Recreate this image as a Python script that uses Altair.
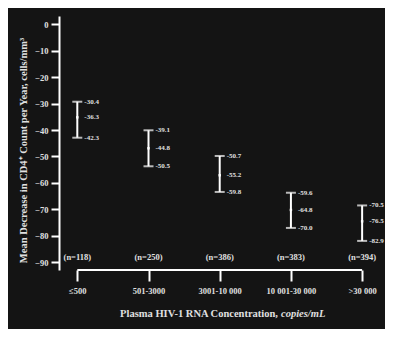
import altair as alt
import pandas as pd

# ---- data ----
categories = ["≤500", "501-3000", "3001-10 000", "10 001-30 000", ">30 000"]
n_labels = ["(n=118)", "(n=250)", "(n=386)", "(n=383)", "(n=394)"]

# positions of the drawn marks
upper_drawn = [-29.3, -40.1, -49.8, -63.7, -68.5]
mean_drawn = [-35.2, -46.9, -57.1, -70.2, -74.5]
lower_drawn = [-42.9, -53.7, -63.4, -77.0, -81.9]

# printed values
upper_text = ["-30.4", "-39.1", "-50.7", "-59.6", "-70.5"]
mean_text = ["-36.3", "-44.8", "-55.2", "-64.8", "-76.5"]
lower_text = ["-42.3", "-50.5", "-59.8", "-70.0", "-82.9"]

y_ticks = [0, -10, -20, -30, -40, -50, -60, -70, -80, -90]
n_label_level = -88

FONT = "Liberation Serif"
TXT = "#e0e0e0"

idx = list(range(len(categories)))
df = pd.DataFrame({
    "idx": idx,
    "cat": categories,
    "n": n_labels,
    "upper": upper_drawn,
    "mean": mean_drawn,
    "lower": lower_drawn,
    "nlev": [n_label_level] * len(categories),
})

long = pd.DataFrame({
    "idx": idx * 3,
    "val": upper_drawn + mean_drawn + lower_drawn,
    "txt": upper_text + mean_text + lower_text,
})

label_expr = " : ".join(
    [f"datum.value == {i} ? '{c}'" for i, c in enumerate(categories)]
) + " : ''"

xscale = alt.Scale(domain=[-0.257, 4.251], nice=False, zero=False)
yscale = alt.Scale(domain=[-92.9, 3.1], nice=False, zero=False)

x_axis = alt.Axis(values=idx, labelExpr=label_expr, title=None)
y_axis = alt.Axis(
    values=y_ticks,
    title="Mean Decrease in CD4⁺ Count per Year, cells/mm³",
    titleY=134,
)

base = alt.Chart(df)

bars = base.mark_rule(color="white", strokeWidth=2).encode(
    x=alt.X("idx:Q", scale=xscale, axis=x_axis),
    y=alt.Y("lower:Q", scale=yscale, axis=y_axis),
    y2="upper:Q",
)

cap_top = base.mark_tick(color="white", orient="horizontal", size=10, thickness=2).encode(
    x=alt.X("idx:Q", scale=xscale, axis=x_axis),
    y=alt.Y("upper:Q", scale=yscale, axis=y_axis),
)
cap_bot = base.mark_tick(color="white", orient="horizontal", size=10, thickness=2).encode(
    x=alt.X("idx:Q", scale=xscale, axis=x_axis),
    y=alt.Y("lower:Q", scale=yscale, axis=y_axis),
)
dots = base.mark_square(color="white", size=6, opacity=1).encode(
    x=alt.X("idx:Q", scale=xscale, axis=x_axis),
    y=alt.Y("mean:Q", scale=yscale, axis=y_axis),
)

val_labels = alt.Chart(long).mark_text(
    align="left", baseline="middle", dx=7, font=FONT, fontWeight="bold",
    fontSize=7, color=TXT,
).encode(
    x=alt.X("idx:Q", scale=xscale, axis=x_axis),
    y=alt.Y("val:Q", scale=yscale, axis=y_axis),
    text="txt:N",
)

n_text = base.mark_text(
    align="center", baseline="middle", font=FONT, fontWeight="bold",
    fontSize=8.5, color=TXT,
).encode(
    x=alt.X("idx:Q", scale=xscale, axis=x_axis),
    y=alt.Y("nlev:Q", scale=yscale, axis=y_axis),
    text="n:N",
)

x_line = alt.Chart(pd.DataFrame({"a": [0], "b": [4]})).mark_rule(
    color="white", strokeWidth=2
).encode(x=alt.X("a:Q", scale=xscale, axis=x_axis), x2="b:Q", y=alt.value(254))

title_main = alt.Chart(pd.DataFrame({"t": ["Plasma HIV-1 RNA Concentration,"]})).mark_text(
    align="right", baseline="middle", font=FONT, fontWeight="bold",
    fontSize=10.5, color=TXT,
).encode(x=alt.value(219), y=alt.value(298), text="t:N")

title_ital = alt.Chart(pd.DataFrame({"t": ["copies/mL"]})).mark_text(
    align="left", baseline="middle", font=FONT, fontWeight="bold",
    fontStyle="italic", fontSize=10.5, color=TXT,
).encode(x=alt.value(222), y=alt.value(298), text="t:N")

chart = alt.layer(
    bars, cap_top, cap_bot, dots, val_labels, n_text, x_line, title_main, title_ital
).properties(
    width=321, height=254,
    autosize=alt.AutoSizeParams(type="none"),
    padding={"left": 51, "top": 8, "right": 5, "bottom": 59},
    background="#141414",
).configure_view(
    stroke=None
).configure_axisY(
    grid=False, domain=True, domainColor="white", domainWidth=2,
    tickColor="white", tickWidth=2, tickSize=8,
    labelFont=FONT, labelFontWeight="bold", labelFontSize=8.5,
    labelColor=TXT, labelPadding=3, labelOverlap=False, labelBound=False,
    titleFont=FONT, titleFontWeight="bold", titleFontSize=10.5,
    titleColor=TXT, titlePadding=6,
).configure_axisX(
    grid=False, domain=False,
    tickColor="white", tickWidth=2, tickSize=11,
    labelFont=FONT, labelFontWeight="bold", labelFontSize=8.5,
    labelColor=TXT, labelPadding=5, labelOverlap=False, labelBound=False,
)

chart.save("out.html", embed_options={"renderer": "svg", "actions": False})
